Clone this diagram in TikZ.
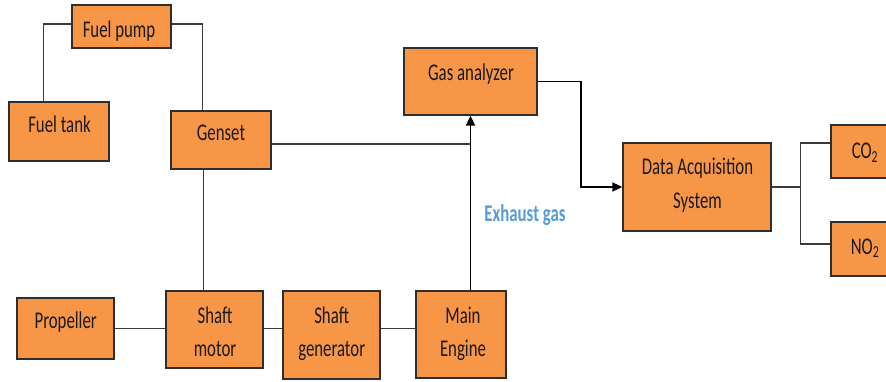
\documentclass[tikz,border=0pt]{standalone}
\usepackage{fontspec}
\setmainfont{Carlito}[FakeStretch=0.7]
\usetikzlibrary{arrows.meta,calc}
\definecolor{boxfill}{HTML}{F79646}
\definecolor{boxline}{HTML}{2E2E2E}
\definecolor{linecol}{HTML}{3A3A3A}
\definecolor{textcol}{HTML}{1A1A1A}
\definecolor{exhaustblue}{HTML}{5B9BD5}
\begin{document}
\begin{tikzpicture}[x=1pt,y=-1pt,
  box/.style={draw=boxline,fill=boxfill,line width=1.3pt,inner sep=0pt,rectangle},
  txt/.style={inner sep=0pt,anchor=base,font=\fontsize{24}{28}\selectfont,text=textcol},
  conn/.style={draw=linecol,line width=1.2pt},
  arr/.style={draw=black,line width=1.8pt,-{Triangle[length=10pt,width=9pt]}}]
\clip (0,0) rectangle (886,381);
\fill[white] (0,0) rectangle (886,381);
% boxes
\node[box,minimum width=99pt,minimum height=43pt] (fp) at (121.5,26.5) {};
\node[box,minimum width=100pt,minimum height=59pt] (ft) at (59,131.5) {};
\node[box,minimum width=100pt,minimum height=58pt] (gs) at (221,140) {};
\node[box,minimum width=133pt,minimum height=67pt] (ga) at (470.5,81.5) {};
\node[box,minimum width=148pt,minimum height=88pt] (daq) at (697,187) {};
\node[box,minimum width=70pt,minimum height=53pt] (co2) at (866,151.5) {};
\node[box,minimum width=70pt,minimum height=54pt] (no2) at (866,249) {};
\node[box,minimum width=97pt,minimum height=61pt] (pr) at (65.5,328.5) {};
\node[box,minimum width=97pt,minimum height=77pt] (sm) at (214.5,329.5) {};
\node[box,minimum width=97pt,minimum height=88pt] (sg) at (331.5,335) {};
\node[box,minimum width=90pt,minimum height=87pt] (me) at (461,334.5) {};
% texts
\node[txt] (tfp) at (119,37.3) {Fuel pump};
\node[txt] (tft) at (59.5,132.3) {Fuel tank};
\node[txt] (tgs) at (221,140.7) {Genset};
\node[txt] (tga) at (471,80) {Gas analyzer};
\node[txt] (tdaq1) at (697.5,174) {Data Acquisition};
\node[txt] (tdaq2) at (697.5,208) {System};
\node[txt] (tco2) at (865,158.3) {CO\textsubscript{2}};
\node[txt] (tno2) at (865,254) {NO\textsubscript{2}};
\node[txt] (tpr) at (65.7,328.3) {Propeller};
\node[txt] (tsm1) at (215,323.3) {Shaft};
\node[txt] (tsm2) at (215,356) {motor};
\node[txt] (tsg1) at (331.7,323.3) {Shaft};
\node[txt] (tsg2) at (331.7,356) {generator};
\node[txt] (tme1) at (463,323.3) {Main};
\node[txt] (tme2) at (463,356) {Engine};
\node[txt,text=exhaustblue,font=\fontsize{24}{28}\selectfont\bfseries] (tex) at (525,221) {Exhaust gas};
% connectors
\draw[conn] ([yshift=2.5pt]fp.west) -| ([xshift=35pt]ft.north west);
\draw[conn] ([yshift=2.5pt]fp.east) -| ([xshift=32pt]gs.north west);
\draw[conn] ([xshift=33pt]gs.south west) -- ([xshift=33pt]gs.south west |- sm.north);
\draw[conn] ([yshift=-4pt]gs.east) -- ([yshift=-4pt]gs.east -| ga.south);
\draw[arr] (ga.south |- me.north) -- (ga.south);
\draw[arr] (ga.east) -- ++(43,0) |- (daq.west);
\draw[conn] (daq.east) -- ++(29,0) coordinate (br);
\draw[conn] (br) |- ([yshift=8.5pt]co2.west);
\draw[conn] (br) |- ([yshift=5pt]no2.west);
\draw[conn] (pr.east) -- (pr.east -| sm.west);
\draw[conn] (sm.east |- pr.east) -- (sg.west |- pr.east);
\draw[conn] (sg.east |- pr.east) -- (me.west |- pr.east);
\end{tikzpicture}
\end{document}
